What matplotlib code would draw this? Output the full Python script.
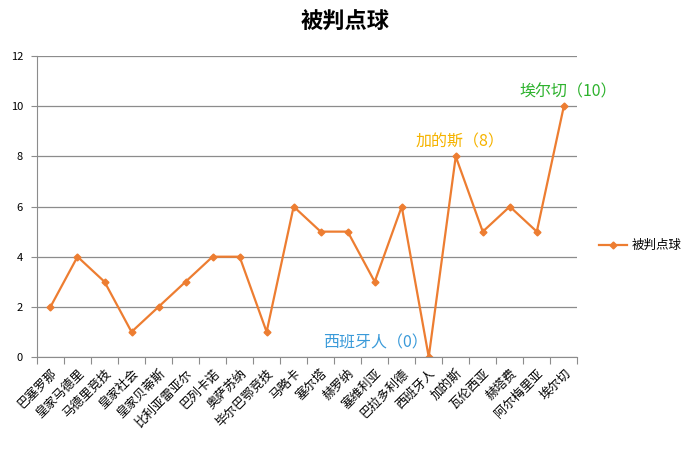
import numpy as np
import matplotlib.pyplot as plt
from matplotlib.ticker import FixedLocator, NullFormatter

plt.rcParams['font.family'] = ['Noto Sans CJK SC', 'DejaVu Sans']

# 球队与被判点球数
teams = ['巴塞罗那', '皇家马德里', '马德里竞技', '皇家社会', '皇家贝蒂斯', '比利亚雷亚尔',
         '巴列卡诺', '奥萨苏纳', '毕尔巴鄂竞技', '马略卡', '塞尔塔', '赫罗纳', '塞维利亚',
         '巴拉多利德', '西班牙人', '加的斯', '瓦伦西亚', '赫塔费', '阿尔梅里亚', '埃尔切']
penalties = [2, 4, 3, 1, 2, 3, 4, 4, 1, 6, 5, 5, 3, 6, 0, 8, 5, 6, 5, 10]
yticks = [0, 2, 4, 6, 8, 10, 12]

line_color = '#ED7D31'
grid_color = '#8C8C8C'

fig = plt.figure(figsize=(6.91, 4.53), dpi=100)
ax = fig.add_axes([0.0535, 0.212, 0.782, 0.664])

x = np.arange(len(teams))
ax.plot(x, penalties, color=line_color, lw=1.6, marker='D', ms=3.5, label='被判点球')

ax.set_xlim(-0.5, len(teams) - 0.5)
ax.set_ylim(0, 12)
ax.set_yticks(yticks)
ax.tick_params(axis='y', length=4, color=grid_color, labelsize=8, pad=6)
ax.yaxis.grid(True, color=grid_color, lw=0.9)
ax.set_axisbelow(True)

# 类别轴: 刻度线在类别之间, 标签在中间
ax.xaxis.set_major_locator(FixedLocator(np.arange(-0.5, len(teams), 1.0)))
ax.xaxis.set_major_formatter(NullFormatter())
ax.xaxis.set_minor_locator(FixedLocator(x))
ax.set_xticklabels(teams, minor=True, rotation=45, ha='right', rotation_mode='anchor', fontsize=9)
ax.tick_params(axis='x', which='major', length=5, color=grid_color)
ax.tick_params(axis='x', which='minor', length=0, pad=7)

for side in ['top', 'right']:
    ax.spines[side].set_visible(False)
ax.spines['left'].set_color(grid_color)
ax.spines['bottom'].set_color(grid_color)

# 标注
ax.annotate('西班牙人（0）', (14, 0), xytext=(-1, 4), textcoords='offset points',
            ha='right', va='bottom', color='#3A9AD9', fontsize=11.5)
ax.annotate('加的斯（8）', (15, 8), xytext=(3, 4), textcoords='offset points',
            ha='center', va='bottom', color='#F5B300', fontsize=11.5)
ax.annotate('埃尔切（10）', (19, 10), xytext=(3, 4), textcoords='offset points',
            ha='center', va='bottom', color='#2DB22D', fontsize=11.5)

fig.text(0.5, 0.951, '被判点球', ha='center', va='center', fontsize=16, fontweight='bold')
ax.legend(loc='center left', bbox_to_anchor=(1.02, 0.37), frameon=False, fontsize=9,
          handlelength=2.2, handletextpad=0.4)

fig.savefig('out.png', dpi=100)
